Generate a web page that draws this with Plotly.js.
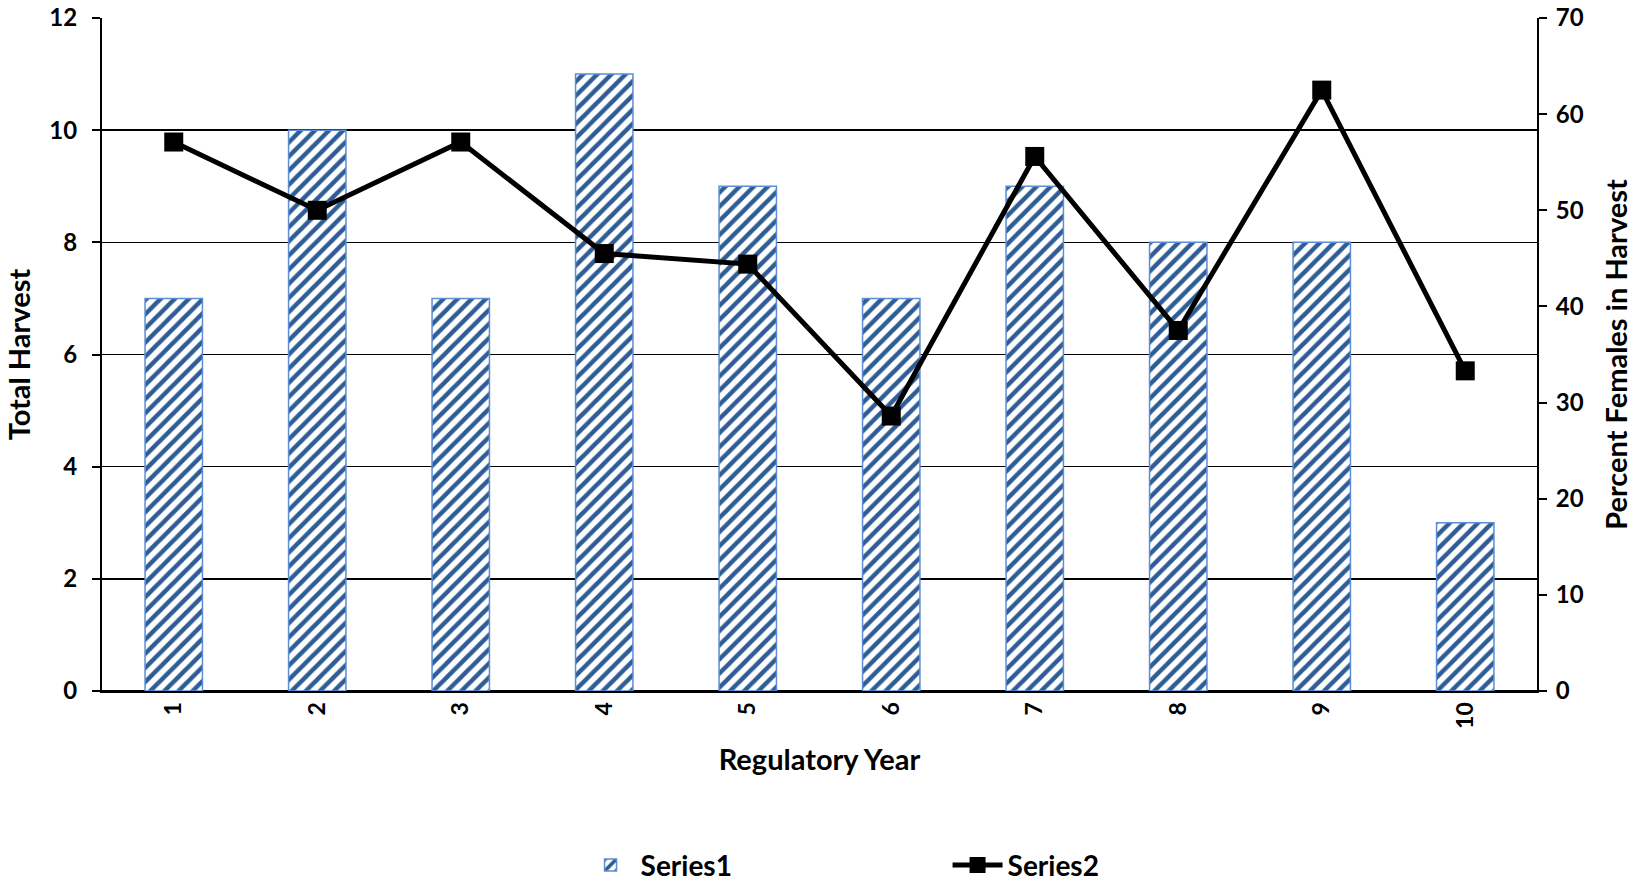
<!DOCTYPE html>
<html><head><meta charset="utf-8">
<script src="https://cdn.plot.ly/plotly-3.0.1.min.js"></script>
<style>html,body{margin:0;padding:0;background:#fff}#chart{width:1640px;height:883px}</style>
</head><body><div id="chart"></div>
<script>
const years = ['1','2','3','4','5','6','7','8','9','10'];
const totalHarvest = [7, 10, 7, 11, 9, 7, 9, 8, 8, 3];
const percentFemales = [57.1, 50.0, 57.1, 45.5, 44.4, 28.6, 55.6, 37.5, 62.5, 33.3];
const leftTicks = [0, 2, 4, 6, 8, 10, 12];
const rightTicks = [0, 10, 20, 30, 40, 50, 60, 70];

const FONT = 'Lato, "Open Sans", sans-serif';

const traces = [
  {
    type: 'bar', name: 'Series1', x: years, y: totalHarvest,
    marker: {
      color: '#ffffff',
      line: {color: '#5b8ed6', width: 1.5},
      pattern: {shape: '/', fgcolor: '#2e5c94', bgcolor: '#ffffff', size: 10, solidity: 0.45}
    },
    hoverinfo: 'x+y'
  },
  {
    type: 'scatter', mode: 'lines+markers', name: 'Series2', x: years, y: percentFemales,
    yaxis: 'y2',
    line: {color: '#000000', width: 5},
    marker: {symbol: 'square', size: 19, color: '#000000'}
  }
];

const layout = {
  width: 1640, height: 883,
  margin: {l: 102, r: 103, t: 18, b: 192},
  paper_bgcolor: '#ffffff', plot_bgcolor: '#ffffff',
  font: {family: FONT, color: '#000000', size: 24, weight: 'bold'},
  bargap: 0.6,
  showlegend: true,
  legend: {
    orientation: 'h', xref: 'container', yref: 'container',
    x: 0.354, xanchor: 'left', y: 0.02, yanchor: 'middle',
    font: {family: FONT, size: 28, weight: 'bold'}, entrywidth: 302, itemwidth: 50
  },
  xaxis: {
    type: 'category', range: [-0.5, 9.5],
    tickangle: -90, showgrid: false, ticks: '',
    showline: true, linecolor: '#000000', linewidth: 2,
    tickfont: {family: FONT, size: 23, weight: 'bold'},
    title: {text: 'Regulatory Year', font: {family: FONT, size: 29, weight: 'bold'}, standoff: 22},
    automargin: false,
    fixedrange: true
  },
  yaxis: {
    range: [0, 12], tickvals: leftTicks, ticktext: leftTicks.map(String),
    showgrid: true, gridcolor: '#000000', gridwidth: 1.5,
    zeroline: true, zerolinecolor: '#000000', zerolinewidth: 2,
    showline: true, linecolor: '#000000', linewidth: 2,
    ticks: 'outside', ticklen: 8, tickcolor: '#000000', tickwidth: 2,
    ticklabelstandoff: 10,
    tickfont: {family: FONT, size: 24, weight: 'bold'},
    title: {text: 'Total Harvest', font: {family: FONT, size: 29, weight: 'bold'}, standoff: 10},
    automargin: false,
    fixedrange: true
  },
  yaxis2: {
    overlaying: 'y', side: 'right',
    range: [0, 70], tickvals: rightTicks, ticktext: rightTicks.map(String),
    showgrid: false, zeroline: false,
    showline: true, linecolor: '#000000', linewidth: 2,
    ticks: 'outside', ticklen: 8, tickcolor: '#000000', tickwidth: 2,
    ticklabelstandoff: 4,
    tickfont: {family: FONT, size: 24, weight: 'bold'},
    title: {text: 'Percent Females in Harvest', font: {family: FONT, size: 29, weight: 'bold'}, standoff: 24},
    automargin: false,
    fixedrange: true
  }
};

Plotly.newPlot('chart', traces, layout, {displayModeBar: false, staticPlot: true});
</script>
</body></html>
